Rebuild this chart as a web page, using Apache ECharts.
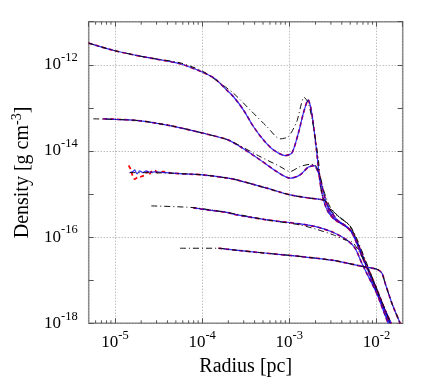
<!DOCTYPE html>
<html><head><meta charset="utf-8">
<script src="https://cdn.jsdelivr.net/npm/echarts@6/dist/echarts.min.js"></script>
<style>html,body{margin:0;padding:0;background:#fff}#c{width:436px;height:382px}</style>
</head><body><div id="c"></div>
<script>
// log10(Radius [pc]), log10(Density [g cm^-3])
const xTickExps = [-5, -4, -3, -2];
const yTickExps = [-18, -16, -14, -12];
const X_MIN = Math.log10(5e-6), X_MAX = Math.log10(2e-2);
const Y_MIN = -18, Y_MAX = -11;

const p1Sim = [[-5.302,-11.496],[-5.0,-11.675],[-4.633,-11.830],[-4.254,-11.977],[-3.993,-12.174],[-3.852,-12.325],[-3.708,-12.604],[-3.642,-12.736],[-3.527,-13.045],[-3.412,-13.433],[-3.297,-13.742],[-3.183,-13.974],[-3.048,-14.107],[-2.971,-14.051],[-2.896,-13.587],[-2.838,-13.122],[-2.784,-12.813],[-2.742,-13.122],[-2.684,-14.051],[-2.646,-14.741],[-2.608,-15.136],[-2.555,-15.415],[-2.474,-15.600],[-2.359,-15.740],[-2.279,-15.879],[-2.222,-16.112],[-2.130,-16.576],[-2.015,-17.110],[-1.843,-18.0]];
const p1Ref = [[-5.302,-11.496],[-5.0,-11.675],[-4.633,-11.830],[-4.254,-11.954],[-3.993,-12.151],[-3.794,-12.425],[-3.642,-12.657],[-3.450,-13.045],[-3.258,-13.433],[-3.106,-13.719],[-3.010,-13.666],[-2.914,-13.317],[-2.830,-12.755],[-2.781,-12.890],[-2.723,-13.433],[-2.666,-14.207],[-2.623,-15.020],[-2.532,-15.322],[-2.417,-15.554],[-2.325,-15.693],[-2.268,-15.879],[-2.210,-16.181],[-2.095,-16.762],[-1.980,-17.343],[-1.831,-18.0]];

const p2Sim = [[-5.134,-13.254],[-4.736,-13.294],[-4.354,-13.417],[-3.990,-13.587],[-3.703,-13.742],[-3.565,-13.898],[-3.335,-14.207],[-3.144,-14.478],[-2.991,-14.632],[-2.876,-14.555],[-2.784,-14.381],[-2.715,-14.339],[-2.658,-14.555],[-2.600,-15.020],[-2.555,-15.322],[-2.497,-15.554],[-2.394,-15.693],[-2.302,-15.833],[-2.233,-16.065],[-2.141,-16.530],[-2.026,-17.087],[-1.854,-18.0]];
const p2Ref = [[-5.249,-13.254],[-4.736,-13.294],[-4.354,-13.417],[-3.990,-13.587],[-3.703,-13.742],[-3.565,-13.880],[-3.335,-14.130],[-3.106,-14.362],[-2.991,-14.478],[-2.876,-14.362],[-2.761,-14.311],[-2.704,-14.323],[-2.646,-14.594],[-2.600,-14.950],[-2.532,-15.298],[-2.417,-15.554],[-2.325,-15.693],[-2.268,-15.879],[-2.210,-16.181],[-2.095,-16.762],[-1.980,-17.343],[-1.831,-18.0]];

const p3Sim = [[-4.831,-14.502],[-4.793,-14.478],[-4.774,-14.439],[-4.747,-14.532],[-4.716,-14.462],[-4.679,-14.502],[-4.641,-14.462],[-4.602,-14.493],[-4.544,-14.485],[-4.354,-14.516],[-3.990,-14.555],[-3.703,-14.632],[-3.603,-14.671],[-3.258,-14.864],[-2.991,-15.020],[-2.761,-15.096],[-2.646,-15.124],[-2.589,-15.159],[-2.532,-15.368],[-2.451,-15.600],[-2.337,-15.763],[-2.268,-15.949],[-2.187,-16.344],[-2.072,-16.901],[-1.866,-18.0]];
const p3SimRed = [[-4.843,-14.339],[-4.820,-14.423],[-4.801,-14.555],[-4.774,-14.655],[-4.744,-14.618],[-4.698,-14.594],[-4.659,-14.555],[-4.629,-14.478],[-4.610,-14.555],[-4.583,-14.478],[-4.544,-14.455],[-4.506,-14.502],[-4.449,-14.478],[-4.354,-14.516],[-3.990,-14.555],[-3.703,-14.632],[-3.603,-14.671],[-3.258,-14.864],[-2.991,-15.020],[-2.761,-15.096],[-2.646,-15.124],[-2.589,-15.159],[-2.532,-15.368],[-2.451,-15.600],[-2.337,-15.763],[-2.268,-15.949],[-2.187,-16.344],[-2.072,-16.901],[-1.866,-18.0]];
const p3Ref = [[-4.831,-14.502],[-4.600,-14.505],[-4.354,-14.516],[-3.990,-14.555],[-3.703,-14.632],[-3.603,-14.671],[-3.258,-14.864],[-2.991,-15.020],[-2.761,-15.096],[-2.646,-15.124],[-2.589,-15.159],[-2.509,-15.415],[-2.394,-15.577],[-2.302,-15.740],[-2.233,-15.996],[-2.118,-16.576],[-1.843,-18.0]];

const p4Sim = [[-4.104,-15.315],[-4.024,-15.345],[-3.703,-15.431],[-3.642,-15.468],[-3.258,-15.600],[-2.876,-15.693],[-2.684,-15.763],[-2.494,-15.891],[-2.340,-16.065],[-2.245,-16.258],[-2.168,-16.606],[-2.053,-17.071],[-1.938,-17.535],[-1.831,-18.0]];
const p4Ref = [[-4.583,-15.275],[-4.104,-15.315],[-3.703,-15.431],[-3.258,-15.600],[-2.876,-15.717],[-2.684,-15.821],[-2.494,-15.949],[-2.359,-16.065],[-2.279,-16.112],[-2.210,-16.297],[-2.118,-16.646],[-1.980,-17.296],[-1.837,-18.0]];

const p5Sim = [[-3.814,-16.258],[-3.642,-16.297],[-3.258,-16.374],[-2.876,-16.448],[-2.494,-16.541],[-2.149,-16.685],[-1.995,-16.746],[-1.938,-16.832],[-1.900,-17.071],[-1.823,-17.535],[-1.728,-18.0]];
const p5Ref = [[-4.254,-16.258],[-3.814,-16.258],[-3.642,-16.297],[-3.258,-16.374],[-2.876,-16.448],[-2.494,-16.541],[-2.149,-16.685],[-1.995,-16.746],[-1.938,-16.832],[-1.900,-17.071],[-1.823,-17.535],[-1.728,-18.0]];

// minor tick positions (2..9 x 10^n)
const minorTicks = [];
for (let n = -6; n <= -2; n++) for (let k = 2; k <= 9; k++) {
  const v = Math.log10(k * Math.pow(10, n));
  if (v > X_MIN && v < X_MAX) minorTicks.push([v, Y_MIN]);
}

const FONT = 'Liberation Serif';
const richLab = {
  b: {fontFamily: FONT, fontSize: 17, color: '#000'},
  s: {fontFamily: FONT, fontSize: 12.5, color: '#000', padding: [0, 0, 14, 0]}
};
function powLabel(list) {
  return function (v) {
    const r = Math.round(v);
    if (Math.abs(v - r) < 1e-6 && list.indexOf(r) >= 0) return '{b|10}{s|' + r + '}';
    return '';
  };
}

const RED = {color: '#ff0000', width: 1.7, type: [4, 3]};
const BLUE = {color: '#0000ff', width: 1.2, type: 'solid', opacity: 0.8};
const BLACK = {color: '#111', width: 1, type: [6, 3, 1, 3]};

function line(data, style) {
  return {type: 'line', data: data, showSymbol: false, symbol: 'none', smooth: 0.25,
    lineStyle: style, silent: true, animation: false, xAxisIndex: 0, yAxisIndex: 0};
}

const series = [];
[[p1Sim, p1Sim, p1Ref], [p2Sim, p2Sim, p2Ref], [p3SimRed, p3Sim, p3Ref], [p4Sim, p4Sim, p4Ref], [p5Sim, p5Sim, p5Ref]]
  .forEach(function (g) {
    series.push(line(g[0], RED));
    series.push(line(g[1], BLUE));
    series.push(line(g[2], BLACK));
  });

series.push({
  type: 'custom', xAxisIndex: 0, yAxisIndex: 0, data: minorTicks, silent: true, animation: false, clip: false, z: 5,
  encode: {x: 0, y: 1},
  renderItem: function (params, api) {
    const x = api.value(0);
    const pb = api.coord([x, Y_MIN]);
    const pt = api.coord([x, Y_MAX]);
    return {type: 'group', children: [
      {type: 'line', shape: {x1: pb[0], y1: pb[1], x2: pb[0], y2: pb[1] - 3}, style: {stroke: '#555', lineWidth: 1}},
      {type: 'line', shape: {x1: pt[0], y1: pt[1], x2: pt[0], y2: pt[1] + 3}, style: {stroke: '#555', lineWidth: 1}}
    ]};
  }
});

const gridLine = {show: true, lineStyle: {color: '#a0a0a0', width: 1, type: [1, 2]}};
const tickStyle = {show: true, inside: true, length: 5, lineStyle: {color: '#555', width: 1}};

const chart = echarts.init(document.getElementById('c'), null, {renderer: 'canvas'});
chart.setOption({
  animation: false,
  backgroundColor: '#fff',
  grid: {left: 88.7, right: 33.3, top: 21.7, bottom: 58.7, show: true, borderColor: '#808080', borderWidth: 1.5, backgroundColor: 'transparent'},
  xAxis: [
    {type: 'value', min: X_MIN, max: X_MAX, minInterval: 1, maxInterval: 1, position: 'bottom',
     axisLine: {show: false}, axisTick: tickStyle, splitLine: gridLine,
     axisLabel: {formatter: powLabel(xTickExps), rich: richLab, margin: 6, showMinLabel: false, showMaxLabel: false},
     name: 'Radius [pc]', nameLocation: 'middle', nameGap: 33,
     nameTextStyle: {fontFamily: FONT, fontSize: 20, color: '#000'}},
    {type: 'value', min: X_MIN, max: X_MAX, minInterval: 1, maxInterval: 1, position: 'top', offset: 0,
     axisLine: {show: false}, axisTick: tickStyle, splitLine: {show: false}, axisLabel: {show: false}}
  ],
  yAxis: [
    {type: 'value', min: Y_MIN, max: Y_MAX, interval: 2, position: 'left', offset: 0,
     axisLine: {show: false}, axisTick: {show: false}, splitLine: gridLine,
     axisLabel: {formatter: powLabel(yTickExps), rich: richLab, margin: 11},
     name: 'Density [g cm{s|-3}]', nameLocation: 'middle', nameGap: 52,
     nameTextStyle: {fontFamily: FONT, fontSize: 20, color: '#000',
       rich: {s: {fontFamily: FONT, fontSize: 14, color: '#000', padding: [0, 0, 12, 0]}}}},
    {type: 'value', min: Y_MIN, max: Y_MAX, interval: 1, position: 'left', offset: 0,
     axisLine: {show: false}, axisTick: tickStyle, splitLine: {show: false}, axisLabel: {show: false}},
    {type: 'value', min: Y_MIN, max: Y_MAX, interval: 1, position: 'right', offset: 0,
     axisLine: {show: false}, axisTick: tickStyle, splitLine: {show: false}, axisLabel: {show: false}}
  ],
  series: series
});
</script></body></html>
